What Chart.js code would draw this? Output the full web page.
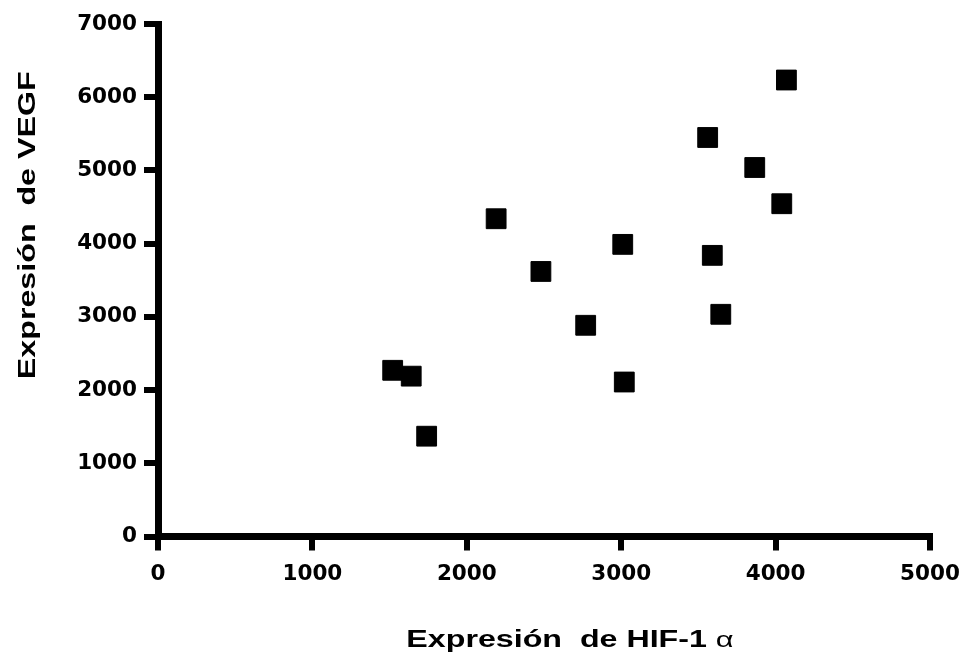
<!DOCTYPE html>
<html>
<head>
<meta charset="utf-8">
<script src="https://cdn.jsdelivr.net/npm/chart.js@4"></script>
<style>
    html, body { margin: 0; padding: 0; background: #fff; }
    canvas { display: block; }
</style>
</head>
<body>
<canvas id="canvas" width="961" height="662"></canvas>
<script>
// HIF-1 alpha (x) vs VEGF (y), one point per sample
const hifValues  = [1520, 1640, 1740, 2190, 2480, 2770, 3010, 3020, 3560, 3590, 3645, 3865, 4040, 4070];
const vegfValues = [2270, 2190, 1370, 4340, 3620, 2885, 3990, 2110, 5450, 3840, 3035, 5040, 4545, 6235];

const xTicks = [0, 1000, 2000, 3000, 4000, 5000];
const yTicks = [0, 1000, 2000, 3000, 4000, 5000, 6000, 7000];

const xTitle = 'Expresión  de HIF-1 ';
const xTitleGreek = 'α';
const yTitle = 'Expresión  de VEGF';

let puntos = [];
for (let i = 0; i < hifValues.length; i++) {
    puntos.push({x: hifValues[i], y: vegfValues[i]});
}

// titulos de los ejes: letra ancha como en la figura original
const titulosEjes = {
    id: 'titulosEjes',
    afterDraw: function (chart) {
        let ctx = chart.ctx;
        let area = chart.chartArea;
        let estirar = 1.4;
        let fuenteNegrita = 'bold 23px "Liberation Sans", Arial, sans-serif';
        let fuenteGriega = '22px "Liberation Sans", Arial, sans-serif';

        ctx.save();
        ctx.fillStyle = '#000';
        ctx.textBaseline = 'alphabetic';

        // eje x
        ctx.font = fuenteNegrita;
        let anchoTexto = ctx.measureText(xTitle).width;
        ctx.font = fuenteGriega;
        let anchoAlfa = ctx.measureText(xTitleGreek).width;
        let total = (anchoTexto + anchoAlfa) * estirar;
        let x0 = (area.left + area.right) / 2 + 26 - total / 2;

        ctx.save();
        ctx.translate(x0, chart.height - 15);
        ctx.scale(estirar, 1);
        ctx.textAlign = 'left';
        ctx.font = fuenteNegrita;
        ctx.fillText(xTitle, 0, 0);
        ctx.font = fuenteGriega;
        ctx.fillText(xTitleGreek, anchoTexto, 0);
        ctx.restore();

        // eje y
        ctx.translate(35, (area.top + area.bottom) / 2 - 55);
        ctx.rotate(-Math.PI / 2);
        ctx.scale(estirar, 1);
        ctx.textAlign = 'center';
        ctx.font = fuenteNegrita;
        ctx.fillText(yTitle, 0, 0);
        ctx.restore();
    }
};

grafico(puntos);

function grafico(puntos) {
    let fuente = {family: '"DejaVu Sans"', weight: 'bold', size: 21.5};

    let ctx = document.getElementById('canvas').getContext('2d');
    let myChart = new Chart(ctx, {
        type: 'scatter',
        data: {
            datasets: [{
                data: puntos,
                pointStyle: 'rect',
                pointRadius: 14,
                pointHoverRadius: 14,
                backgroundColor: '#000',
                borderColor: '#000',
                borderWidth: 1
            }]
        },
        options: {
            responsive: false,
            animation: false,
            layout: {
                padding: {top: 24, right: 31, left: 0, bottom: 0}
            },
            plugins: {
                legend: {display: false},
                tooltip: {enabled: false}
            },
            scales: {
                x: {
                    type: 'linear',
                    min: xTicks[0],
                    max: xTicks[xTicks.length - 1],
                    afterFit: function (scale) {
                        scale.height = 125.5;
                        scale.paddingLeft = 0;
                        scale.paddingRight = 0;
                    },
                    afterBuildTicks: function (scale) {
                        scale.ticks = xTicks.map(v => ({value: v}));
                    },
                    grid: {
                        drawOnChartArea: false,
                        color: '#000',
                        lineWidth: 6,
                        tickLength: 14
                    },
                    border: {color: '#000', width: 7},
                    ticks: {
                        color: '#000',
                        font: fuente,
                        padding: 11,
                        maxRotation: 0,
                        callback: function (value) { return String(value); }
                    }
                },
                y: {
                    type: 'linear',
                    min: yTicks[0],
                    max: yTicks[yTicks.length - 1],
                    afterFit: function (scale) { scale.width = 158; },
                    afterBuildTicks: function (scale) {
                        scale.ticks = yTicks.map(v => ({value: v}));
                    },
                    grid: {
                        drawOnChartArea: false,
                        color: '#000',
                        lineWidth: 6,
                        tickLength: 14
                    },
                    border: {color: '#000', width: 7},
                    ticks: {
                        color: '#000',
                        font: fuente,
                        padding: 7,
                        callback: function (value) { return String(value); }
                    }
                }
            }
        },
        plugins: [titulosEjes]
    });
}
</script>
</body>
</html>
